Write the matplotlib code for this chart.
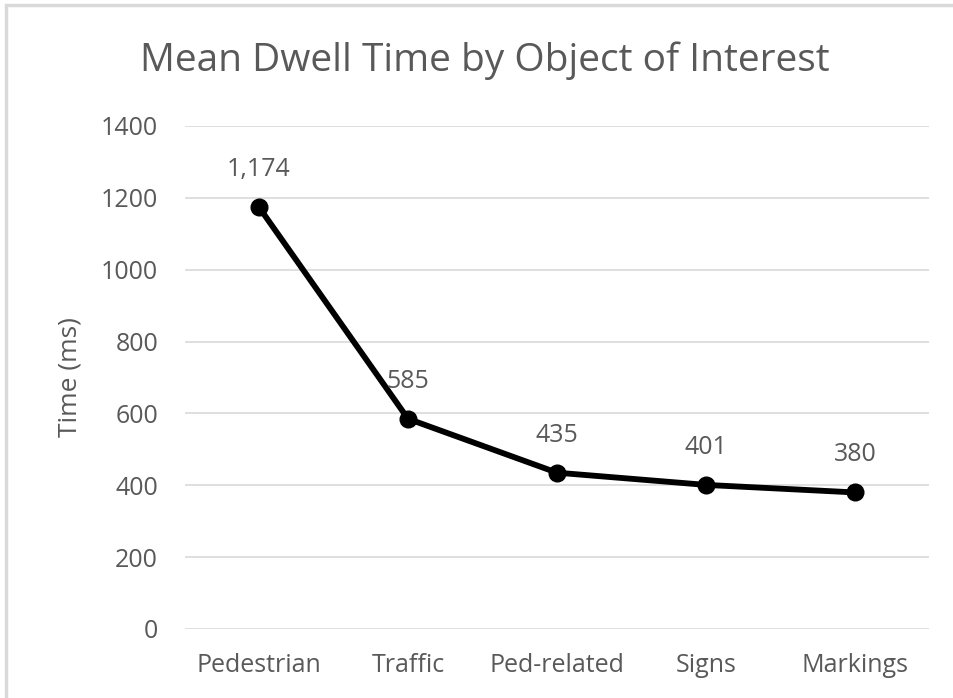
import matplotlib.pyplot as plt
from matplotlib.patches import Rectangle

# Данные
categories = ["Pedestrian", "Traffic", "Ped-related", "Signs", "Markings"]
dwell_ms = [1174, 585, 435, 401, 380]
label_text = ["1,174", "585", "435", "401", "380"]
y_ticks = [0, 200, 400, 600, 800, 1000, 1200, 1400]

plt.rcParams['font.family'] = ['Open Sans', 'DejaVu Sans']
text_col = "#595959"
grid_col = "#d9d9d9"

fig = plt.figure(figsize=(9.54, 6.98), dpi=100)
ax = fig.add_axes([0.1934, 0.0989, 0.7809, 0.7206])

x = list(range(len(categories)))
ax.plot(x, dwell_ms, color="black", linewidth=4.2, marker="o",
        markersize=12, solid_capstyle="round", zorder=3)

for xi, yi, t in zip(x, dwell_ms, label_text):
    ax.annotate(t, (xi, yi), xytext=(0, 27), textcoords="offset points",
                ha="center", va="center", fontsize=18, color=text_col)

ax.set_xlim(-0.5, len(categories) - 0.5)
ax.set_ylim(0, 1400)
ax.set_yticks(y_ticks)
ax.set_yticklabels([str(v) for v in y_ticks])
ax.set_xticks(x)
ax.set_xticklabels(categories)
ax.tick_params(axis="both", length=0, labelsize=18, labelcolor=text_col)
ax.tick_params(axis="y", pad=19)
ax.tick_params(axis="x", pad=17)
ax.grid(True, axis="y", color=grid_col, linewidth=1.2)
ax.set_axisbelow(True)
for s in ax.spines.values():
    s.set_visible(False)

ax.set_ylabel("Time (ms)", fontsize=19, color=text_col, labelpad=13)
fig.text(0.508, 0.913, "Mean Dwell Time by Object of Interest",
         ha="center", va="center", fontsize=28, color=text_col)

# рамка диаграммы
fig.patches.append(Rectangle((0.006, -0.01), 1.0, 1.003, transform=fig.transFigure,
                             fill=False, edgecolor="#d9d9d9", linewidth=2.5))

plt.savefig("out.png", dpi=100)
